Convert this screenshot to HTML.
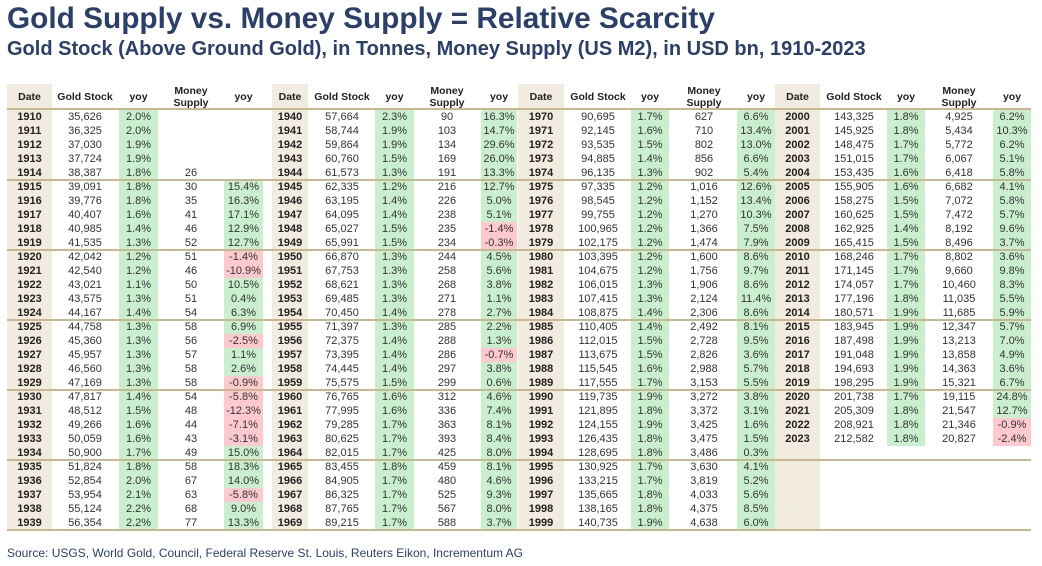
<!DOCTYPE html>
<html><head><meta charset="utf-8"><style>
body{margin:0;width:1042px;height:566px;background:#fff;position:relative;overflow:hidden;font-family:"Liberation Sans",Arial,sans-serif}
.a{position:absolute}
#title{left:7px;top:2px;font-size:29.8px;font-weight:bold;color:#2b3f6c;white-space:nowrap}
#sub{left:7px;top:38px;font-size:20px;font-weight:bold;color:#2b3f6c;white-space:nowrap}
#src{left:7px;top:546px;font-size:12px;color:#2b3f6c;white-space:nowrap}
.c{position:absolute;height:14px;line-height:14px;font-size:11px;color:#333;text-align:center;white-space:nowrap}
.h{position:absolute;font-size:10.5px;font-weight:bold;color:#222;text-align:center;line-height:12px;display:flex;align-items:center;justify-content:center}
</style></head><body>
<div class="a" id="title">Gold Supply vs. Money Supply = Relative Scarcity</div>
<div class="a" id="sub">Gold Stock (Above Ground Gold), in Tonnes, Money Supply (US M2), in USD bn, 1910-2023</div>
<div class="a" id="tbl" style="left:0;top:0;width:1042px;height:566px"></div>
<div class="a" id="src">Source: USGS, World Gold, Council, Federal Reserve St. Louis, Reuters Eikon, Incrementum AG</div>
<script>
const years=[];for(let y=1910;y<=2023;y++)years.push(y);
const goldStock=["35,626","36,325","37,030","37,724","38,387","39,091","39,776","40,407","40,985","41,535","42,042","42,540","43,021","43,575","44,167","44,758","45,360","45,957","46,560","47,169","47,817","48,512","49,266","50,059","50,900","51,824","52,854","53,954","55,124","56,354",
"57,664","58,744","59,864","60,760","61,573","62,335","63,195","64,095","65,027","65,991","66,870","67,753","68,621","69,485","70,450","71,397","72,375","73,395","74,445","75,575","76,765","77,995","79,285","80,625","82,015","83,455","84,905","86,325","87,765","89,215",
"90,695","92,145","93,535","94,885","96,135","97,335","98,545","99,755","100,965","102,175","103,395","104,675","106,015","107,415","108,875","110,405","112,015","113,675","115,545","117,555","119,735","121,895","124,155","126,435","128,695","130,925","133,215","135,665","138,165","140,735",
"143,325","145,925","148,475","151,015","153,435","155,905","158,275","160,625","162,925","165,415","168,246","171,145","174,057","177,196","180,571","183,945","187,498","191,048","194,693","198,295","201,738","205,309","208,921","212,582"];
const goldYoy=[2.0,2.0,1.9,1.9,1.8,1.8,1.8,1.6,1.4,1.3,1.2,1.2,1.1,1.3,1.4,1.3,1.3,1.3,1.3,1.3,1.4,1.5,1.6,1.6,1.7,1.8,2.0,2.1,2.2,2.2,
2.3,1.9,1.9,1.5,1.3,1.2,1.4,1.4,1.5,1.5,1.3,1.3,1.3,1.3,1.4,1.3,1.4,1.4,1.4,1.5,1.6,1.6,1.7,1.7,1.7,1.8,1.7,1.7,1.7,1.7,
1.7,1.6,1.5,1.4,1.3,1.2,1.2,1.2,1.2,1.2,1.2,1.2,1.3,1.3,1.4,1.4,1.5,1.5,1.6,1.7,1.9,1.8,1.9,1.8,1.8,1.7,1.7,1.8,1.8,1.9,
1.8,1.8,1.7,1.7,1.6,1.6,1.5,1.5,1.4,1.5,1.7,1.7,1.7,1.8,1.9,1.9,1.9,1.9,1.9,1.9,1.7,1.8,1.8,1.8];
const money=["","","","","26","30","35","41","46","52","51","46","50","51","54","58","56","57","58","58","54","48","44","43","49","58","67","63","68","77",
"90","103","134","169","191","216","226","238","235","234","244","258","268","271","278","285","288","286","297","299","312","336","363","393","425","459","480","525","567","588",
"627","710","802","856","902","1,016","1,152","1,270","1,366","1,474","1,600","1,756","1,906","2,124","2,306","2,492","2,728","2,826","2,988","3,153","3,272","3,372","3,425","3,475","3,486","3,630","3,819","4,033","4,375","4,638",
"4,925","5,434","5,772","6,067","6,418","6,682","7,072","7,472","8,192","8,496","8,802","9,660","10,460","11,035","11,685","12,347","13,213","13,858","14,363","15,321","19,115","21,547","21,346","20,827"];
const moneyYoy=[null,null,null,null,null,15.4,16.3,17.1,12.9,12.7,-1.4,-10.9,10.5,0.4,6.3,6.9,-2.5,1.1,2.6,-0.9,-5.8,-12.3,-7.1,-3.1,15.0,18.3,14.0,-5.8,9.0,13.3,
16.3,14.7,29.6,26.0,13.3,12.7,5.0,5.1,-1.4,-0.3,4.5,5.6,3.8,1.1,2.7,2.2,1.3,-0.7,3.8,0.6,4.6,7.4,8.1,8.4,8.0,8.1,4.6,9.3,8.0,3.7,
6.6,13.4,13.0,6.6,5.4,12.6,13.4,10.3,7.5,7.9,8.6,9.7,8.6,11.4,8.6,8.1,9.5,3.6,5.7,5.5,3.8,3.1,1.6,1.5,0.3,4.1,5.2,5.6,8.5,6.0,
6.2,10.3,6.2,5.1,5.8,4.1,5.8,5.7,9.6,3.7,3.6,9.8,8.3,5.5,5.9,5.7,7.0,4.9,3.6,6.7,24.8,12.7,-0.9,-2.4];
const groups=[
 {d:[7,52],g:85,y:[119,158],m:191,y2:[224,263]},
 {d:[272,308],g:342,y:[375,414],m:447,y2:[481,517]},
 {d:[518,564],g:598,y:[631,669],m:704,y2:[737,775]},
 {d:[775,820],g:854,y:[887,925],m:959,y2:[993,1031]}];
const T=document.getElementById('tbl');
function box(x,y,w,h,bg){const e=document.createElement('div');e.className='a';e.style.cssText=`left:${x}px;top:${y}px;width:${w}px;height:${h}px;background:${bg}`;T.appendChild(e);return e;}
function cell(txt,cx,top,w,bold){const e=document.createElement('div');e.className='c';e.style.left=(cx-w/2)+'px';e.style.top=top+'px';e.style.width=w+'px';if(bold){e.style.fontWeight='bold';e.style.color='#222';}e.textContent=txt;T.appendChild(e);return e;}
const R0=110,RH=14;
groups.forEach((G,gi)=>{
  const b=box(G.d[0],84,G.d[1]-G.d[0],447,'#f1ebe0');
  
  
  const hd=[['Date',(G.d[0]+G.d[1])/2],['Gold Stock',G.g],['yoy',(G.y[0]+G.y[1])/2],['Money<br>Supply',G.m],['yoy',(G.y2[0]+G.y2[1])/2]];
  hd.forEach(([t,cx])=>{const e=document.createElement('div');e.className='h';e.style.cssText=`left:${cx-35}px;top:84px;width:70px;height:25px`;e.innerHTML=t;
    
    
    T.appendChild(e);});
  for(let r=0;r<30;r++){
    const i=gi*30+r;if(i>=years.length)break;
    const top=R0+r*RH;
    const dc=cell(String(years[i]),(G.d[0]+G.d[1])/2,top,46,true);
    
    
    const gc=cell(goldStock[i],G.g,top,60,false);
    
    
    const yb=box(G.y[0],top,G.y[1]-G.y[0],RH,goldYoy[i]<0?'#fdc9cf':'#c9efcf');
    
    
    cell(goldYoy[i].toFixed(1)+'%',(G.y[0]+G.y[1])/2,top,40,false);
    const mc=cell(money[i],G.m,top,50,false);
    
    
    if(moneyYoy[i]!==null){
      const mb=box(G.y2[0],top,G.y2[1]-G.y2[0],RH,moneyYoy[i]<0?'#fdc9cf':'#c9efcf');
      
      
      cell(moneyYoy[i].toFixed(1)+'%',(G.y2[0]+G.y2[1])/2,top,40,false);
    }
  }
});
for(let k=0;k<=6;k++){
  const y=k===0?108:R0+k*70-1;
  const l=box(7,y,1024,2,'#cbb78d');
  
  
}
</script>
</body></html>
